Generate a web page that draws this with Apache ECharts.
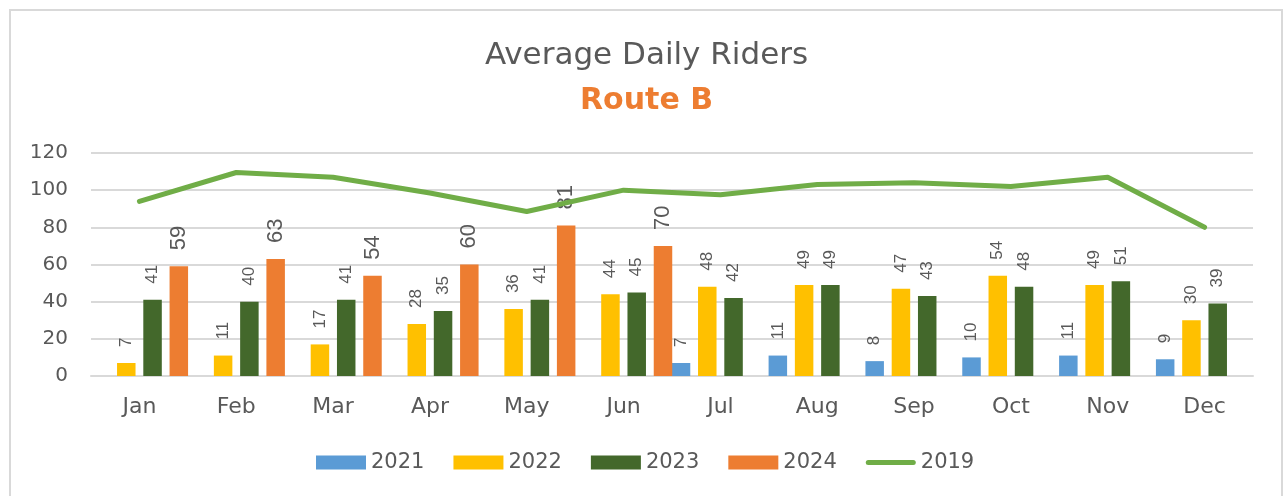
<!DOCTYPE html>
<html>
<head>
<meta charset="utf-8">
<script src="https://cdn.jsdelivr.net/npm/echarts@6/dist/echarts.min.js"></script>
<style>
  html, body { margin: 0; padding: 0; background: #fff; overflow: hidden; }
  #frame { position: absolute; left: 9px; top: 9px; width: 1274px; height: 600px;
           border: 2px solid #d9d9d9; box-sizing: border-box; }
  #chart { position: absolute; left: 10px; top: 10px; width: 1273px; height: 486px; }
</style>
</head>
<body>
<div id="frame"></div>
<div id="chart"></div>
<script>
const months = ['Jan', 'Feb', 'Mar', 'Apr', 'May', 'Jun', 'Jul', 'Aug', 'Sep', 'Oct', 'Nov', 'Dec']
const riders2021 = [null, null, null, null, null, null, 7, 11, 8, 10, 11, 9]
const riders2022 = [7, 11, 17, 28, 36, 44, 48, 49, 47, 54, 49, 30]
const riders2023 = [41, 40, 41, 35, 41, 45, 42, 49, 43, 48, 51, 39]
const riders2024 = [59, 63, 54, 60, 81, 70, null, null, null, null, null, null]
const riders2019 = [94, 109.5, 107, 98.5, 88.5, 100, 97.5, 103, 104, 102, 107, 80]
const yTicks = [0, 20, 40, 60, 80, 100, 120]

const gray = '#595959'
const font = 'DejaVu Sans'

const myChart = echarts.init(document.getElementById('chart'))

// bar label, rotated to read upward
const barLabel = (size) => ({
  show: true,
  position: 'top',
  rotate: 90,
  align: 'left',
  verticalAlign: 'middle',
  distance: 16,
  color: gray,
  fontFamily: 'Liberation Sans',
  fontSize: size
})

const bar = (name, data, color, labelSize) => ({
  name,
  type: 'bar',
  data,
  barWidth: 18.5,
  barGap: '42%',
  itemStyle: { color },
  label: barLabel(labelSize)
})

const option = {
  animation: false,
  title: [
    {
      text: 'Average Daily Riders',
      left: 'center',
      top: 25,
      textStyle: { color: gray, fontFamily: font, fontWeight: 'normal', fontSize: 31 }
    },
    {
      text: 'Route B',
      left: 'center',
      top: 71,
      textStyle: { color: '#ED7D31', fontFamily: font, fontWeight: 'bold', fontSize: 30 }
    }
  ],
  legend: {
    left: 301,
    top: 437,
    itemWidth: 50,
    itemHeight: 14,
    itemGap: 29,
    textStyle: { color: gray, fontFamily: font, fontSize: 21 },
    data: [
      { name: '2021', icon: 'rect' },
      { name: '2022', icon: 'rect' },
      { name: '2023', icon: 'rect' },
      { name: '2024', icon: 'rect' },
      { name: '2019', icon: 'path://M2.5,0 L47.5,0 A2.5,2.5 0 0 1 47.5,5 L2.5,5 A2.5,2.5 0 0 1 2.5,0 Z' }
    ]
  },
  grid: { left: 81, right: 30, top: 143, bottom: 120 },
  xAxis: {
    type: 'category',
    data: months,
    axisLine: { lineStyle: { color: '#d9d9d9', width: 2 } },
    axisTick: { show: false },
    axisLabel: { color: gray, fontFamily: font, fontSize: 22, margin: 20 }
  },
  yAxis: {
    type: 'value',
    min: yTicks[0],
    max: yTicks[yTicks.length - 1],
    interval: 20,
    axisLine: { show: false },
    axisTick: { show: false },
    splitLine: { lineStyle: { color: '#d9d9d9', width: 2 } },
    axisLabel: { color: gray, fontFamily: font, fontSize: 20, margin: 23 }
  },
  series: [
    bar('2021', riders2021, '#5B9BD5', 17),
    bar('2022', riders2022, '#FFC000', 17),
    bar('2023', riders2023, '#43682B', 17),
    bar('2024', riders2024, '#ED7D31', 22),
    {
      name: '2019',
      type: 'line',
      data: riders2019,
      symbol: 'none',
      itemStyle: { color: '#70AD47' },
      lineStyle: { color: '#70AD47', width: 5, cap: 'round', join: 'round' }
    }
  ]
}

myChart.setOption(option)
window.addEventListener('resize', () => myChart.resize())
</script>
</body>
</html>
